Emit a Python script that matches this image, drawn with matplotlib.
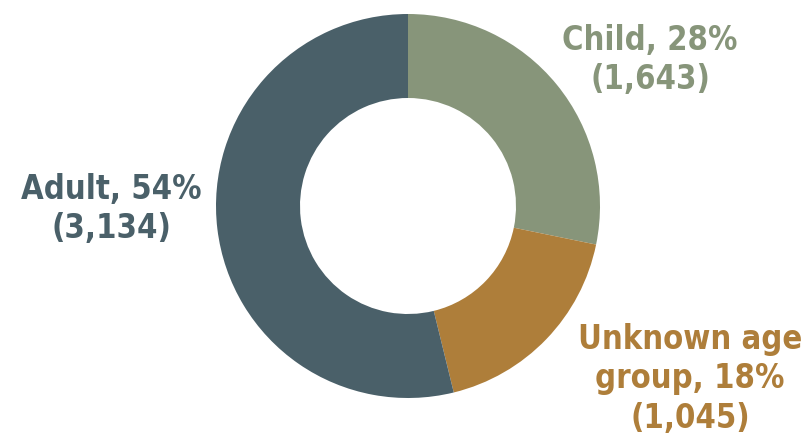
import matplotlib.pyplot as plt

labels = ['Child', 'Unknown age\ngroup', 'Adult']
pcts = [28, 18, 54]
counts = [1643, 1045, 3134]
colors = ['#87957a', '#ae7e3a', '#4a6069']

fig = plt.figure(figsize=(8.04, 4.37), dpi=100)
ax = fig.add_axes([0, 0, 1, 1])
ax.set_xlim(0, 804)
ax.set_ylim(0, 437)
ax.set_aspect('equal')
ax.axis('off')

# donut: starts at 12 o'clock, goes clockwise
ax.pie(counts, colors=colors, startangle=90, counterclock=False,
       center=(408, 231), radius=192,
       wedgeprops=dict(width=84, linewidth=0))
ax.set_xlim(0, 804)
ax.set_ylim(0, 437)

font = dict(family=['DejaVu Sans'], fontstretch='condensed', fontweight='bold',
            fontsize=23.5, linespacing=1.26, ha='center', va='center')
pos = [(650, 377), (690, 58), (111, 228)]
for lab, p, c, col, xy in zip(labels, pcts, counts, colors, pos):
    ax.text(xy[0], xy[1], f'{lab}, {p}%\n({c:,})', color=col, **font)

fig.savefig('out.png', dpi=100)
